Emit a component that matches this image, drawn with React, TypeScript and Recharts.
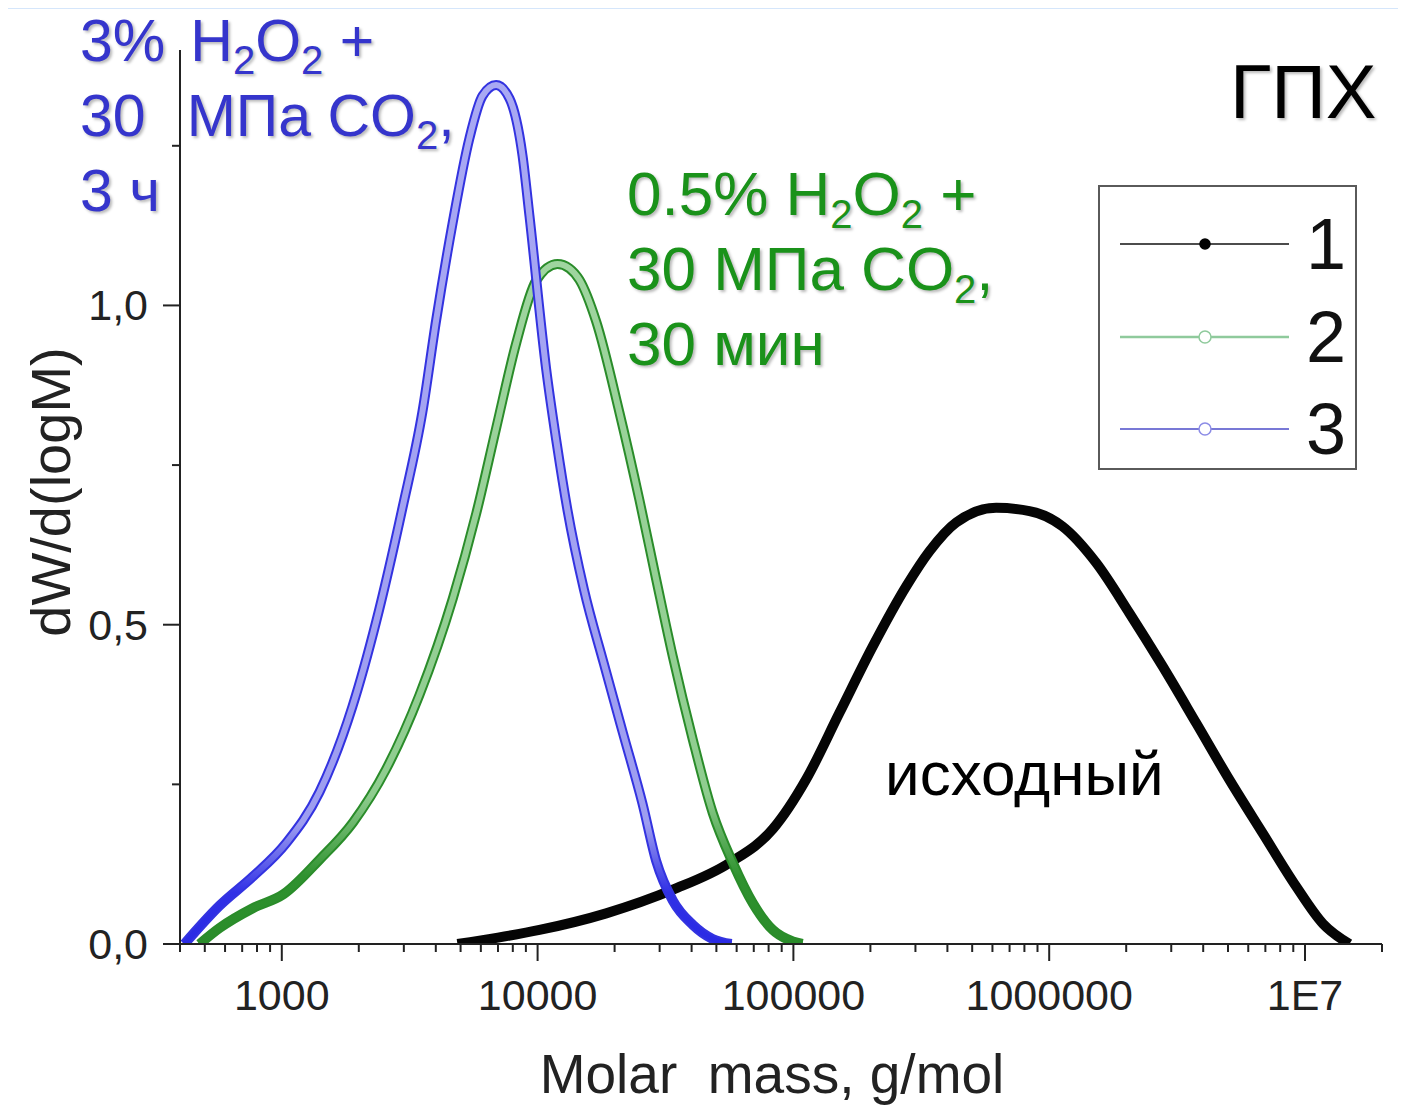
import React from 'react';
import { LineChart, Line, XAxis, YAxis, Legend, Label } from 'recharts';

// GPC (ГПХ) molar mass distributions
// 1 — original sample
const massOriginal = [4860, 7000, 10170, 18540, 33780, 56260, 83090, 112200, 151400, 204300, 276000, 340400, 432900, 620400, 837300, 1127000, 1526000, 2060000, 2774000, 3755000, 5068000, 6822000, 9238000, 11740000, 14930000];
const dwOriginal = [0, 0.01, 0.022, 0.048, 0.085, 0.127, 0.18, 0.258, 0.362, 0.466, 0.56, 0.615, 0.66, 0.683, 0.678, 0.654, 0.597, 0.518, 0.435, 0.346, 0.257, 0.174, 0.09, 0.032, 0];

// 2 — 0.5% H2O2 + 30 MPa CO2, 30 min
const mass05 = [477, 571, 770, 1016, 1404, 1895, 2559, 3453, 4661, 5754, 6888, 8249, 9874, 11960, 13320, 14580, 16940, 20900, 25020, 29080, 33780, 40440, 48400, 57960, 69390, 83090, 99450, 108500];
const dw05 = [0, 0.025, 0.056, 0.078, 0.132, 0.19, 0.274, 0.39, 0.541, 0.674, 0.808, 0.941, 1.039, 1.065, 1.058, 1.04, 0.975, 0.832, 0.695, 0.571, 0.45, 0.32, 0.205, 0.127, 0.064, 0.022, 0.004, 0];

// 3 — 3% H2O2 + 30 MPa CO2, 3 h
const mass3 = [416, 571, 768, 1040, 1404, 1889, 2339, 2963, 3548, 4013, 4649, 5416, 6087, 6888, 7765, 8729, 9296, 10805, 11870, 13080, 15180, 18130, 21570, 25700, 29080, 33780, 40440, 48290, 57280];
const dw3 = [0, 0.06, 0.105, 0.158, 0.238, 0.372, 0.505, 0.683, 0.834, 0.977, 1.128, 1.262, 1.328, 1.345, 1.324, 1.235, 1.14, 0.9, 0.785, 0.68, 0.555, 0.44, 0.33, 0.22, 0.13, 0.068, 0.03, 0.008, 0];

const xMajorTicks = [1000, 10000, 100000, 1000000, 10000000];
const xMajorLabels = ['1000', '10000', '100000', '1000000', '1E7'];
const xDecades = [100, 1000, 10000, 100000, 1000000, 10000000];
const xMinorSteps = [2, 3, 4, 5, 6, 7, 8, 9];
const yTicks = [0, 0.25, 0.5, 0.75, 1, 1.25];
const yMajorTicks = [0, 0.5, 1];
const yMajorLabels = ['0,0', '0,5', '1,0'];

const X_MIN = 400;
const X_MAX = 20000000;

const FONT = '"Liberation Sans", Arial, Helvetica, sans-serif';
const AXIS = '#222';

const toPoints = (mass: number[], dw: number[]) => mass.map((M, i) => ({ M, v: dw[i] }));

// outer = edge colour of the thick marker band, inner = its lighter core (gradient id)
const series = [
  { name: '1', data: toPoints(massOriginal, dwOriginal), stroke: '#050505', inner: null },
  { name: '2', data: toPoints(mass05, dw05), stroke: '#2a8c2a', inner: 'url(#greenCore)' },
  { name: '3', data: toPoints(mass3, dw3), stroke: '#3333e0', inner: 'url(#blueCore)' },
];

const xMinorTicks = xDecades
  .flatMap((d) => xMinorSteps.map((s) => d * s))
  .filter((t) => t >= X_MIN && t <= X_MAX);
const xAllTicks = [...xMinorTicks, ...xMajorTicks].sort((a, b) => a - b);

const legendLook: Record<string, any> = {
  '1': { line: '#111', width: 1.5, fill: '#000', stroke: '#000', r: 5 },
  '2': { line: '#8fca9c', width: 2.5, fill: '#fff', stroke: '#8fca9c', r: 6 },
  '3': { line: '#4b4bc8', width: 1.5, fill: '#fff', stroke: '#8c8ce6', r: 6 },
};

const XTick = (props: any) => {
  const { x, y, payload } = props;
  const idx = xMajorTicks.indexOf(payload.value);
  const major = idx >= 0;
  return (
    <g>
      <line x1={x} x2={x} y1={y} y2={y + (major ? 17 : 8)} stroke={AXIS} strokeWidth={2} />
      {major && (
        <text x={x} y={y + 66} textAnchor="middle" fontSize={43} fill={AXIS} fontFamily={FONT}>
          {xMajorLabels[idx]}
        </text>
      )}
    </g>
  );
};

const YTick = (props: any) => {
  const { x, y, payload } = props;
  const idx = yMajorTicks.indexOf(payload.value);
  const major = idx >= 0;
  return (
    <g>
      <line x1={x - (major ? 17 : 8)} x2={x} y1={y} y2={y} stroke={AXIS} strokeWidth={2} />
      {major && (
        <text x={x - 32} y={y + 15} textAnchor="end" fontSize={43} fill={AXIS} fontFamily={FONT}>
          {yMajorLabels[idx]}
        </text>
      )}
    </g>
  );
};

const LegendBox = (props: any) => {
  const items = (props.payload || []).filter((p: any) => p.type !== 'none' && legendLook[p.value]);
  return (
    <div style={{ width: 259, height: 285, boxSizing: 'border-box', border: '2px solid #5a5a5a', background: '#fff', position: 'relative', fontFamily: FONT }}>
      {items.map((p: any, i: number) => {
        const s = legendLook[p.value];
        return (
          <div key={p.value} style={{ position: 'absolute', left: 0, top: 17 + i * 92.5, height: 80, width: '100%' }}>
            <svg width={200} height={80} style={{ position: 'absolute', left: 0, top: 0 }}>
              <line x1={20} x2={189} y1={40} y2={40} stroke={s.line} strokeWidth={s.width} />
              <circle cx={105} cy={40} r={s.r} fill={s.fill} stroke={s.stroke} strokeWidth={1.5} />
            </svg>
            <span style={{ position: 'absolute', left: 206, top: 0, fontSize: 72, lineHeight: '80px', color: '#111' }}>{p.value}</span>
          </div>
        );
      })}
    </div>
  );
};

// top of a text line box so that the baseline lands on `baseline`
const topFor = (baseline: number, size: number, lh: number) => baseline - ((lh - 1.117 * size) / 2 + 0.905 * size);

const Sub = ({ children }: { children: React.ReactNode }) => (
  <span style={{ fontSize: 40, position: 'relative', top: 13, lineHeight: 0 }}>{children}</span>
);

const shadow = '2px 2px 3px rgba(0,0,0,0.28)';

const App = () => {
  return (
    <div style={{ position: 'relative', width: 1406, height: 1118, margin: -8, background: '#d5e6fb', fontFamily: FONT, overflow: 'hidden' }}>
      <div style={{ position: 'absolute', left: 8, top: 9, right: 0, bottom: 0, background: '#fff' }} />
      <div style={{ position: 'absolute', left: 0, top: 0 }}>
        <LineChart width={1406} height={1118} margin={{ top: 50, right: 24, bottom: 74, left: 8 }}>
          <defs>
            <linearGradient id="greenCore" x1="0" y1="0" x2="0" y2="1">
              <stop offset="0" stopColor="#9fd59f" />
              <stop offset="0.78" stopColor="#8fcd8f" />
              <stop offset="0.9" stopColor="#2f922f" />
              <stop offset="1" stopColor="#2a8c2a" />
            </linearGradient>
            <linearGradient id="blueCore" x1="0" y1="0" x2="0" y2="1">
              <stop offset="0" stopColor="#a9a9f3" />
              <stop offset="0.86" stopColor="#9d9df0" />
              <stop offset="0.94" stopColor="#3030e6" />
              <stop offset="1" stopColor="#2a2ae4" />
            </linearGradient>
          </defs>
          <XAxis
            dataKey="M"
            type="number"
            scale="log"
            domain={[X_MIN, X_MAX]}
            allowDataOverflow
            ticks={xAllTicks}
            interval={0}
            height={100}
            tickSize={0}
            tickMargin={0}
            tickLine={false}
            tick={<XTick />}
            axisLine={{ stroke: AXIS, strokeWidth: 2 }}
          >
            <Label
              content={(p: any) => {
                const vb = p.viewBox || { x: 180, y: 944, width: 1202 };
                return (
                  <text x={vb.x + vb.width / 2 - 9} y={vb.y + 149} textAnchor="middle" fontSize={55} fill={AXIS} fontFamily={FONT} style={{ whiteSpace: 'pre' }}>
                    {'Molar  mass, g/mol'}
                  </text>
                );
              }}
            />
          </XAxis>
          <YAxis
            type="number"
            domain={[0, 1.4]}
            allowDataOverflow
            ticks={yTicks}
            interval={0}
            width={172}
            tickSize={0}
            tickMargin={0}
            tickLine={false}
            tick={<YTick />}
            axisLine={{ stroke: AXIS, strokeWidth: 2 }}
          >
            <Label
              content={(p: any) => {
                const vb = p.viewBox || { x: 8, y: 50, height: 894 };
                const cx = vb.x + 42;
                const cy = vb.y + vb.height / 2 - 5;
                return (
                  <text x={cx} y={cy} transform={`rotate(-90, ${cx}, ${cy})`} textAnchor="middle" dominantBaseline="central" fontSize={56} fill={AXIS} fontFamily={FONT}>
                    dW/d(logM)
                  </text>
                );
              }}
            />
          </YAxis>
          {series.flatMap((s) => {
            const out = [
              <Line
                key={`${s.name}-outer`}
                name={s.name}
                data={s.data}
                dataKey="v"
                type="monotone"
                stroke={s.stroke}
                strokeWidth={10}
                dot={false}
                activeDot={false}
                isAnimationActive={false}
              />,
            ];
            if (s.inner) {
              out.push(
                <Line
                  key={`${s.name}-inner`}
                  name={`${s.name}-inner`}
                  data={s.data}
                  dataKey="v"
                  type="monotone"
                  stroke={s.inner}
                  strokeWidth={6}
                  dot={false}
                  activeDot={false}
                  legendType="none"
                  isAnimationActive={false}
                />
              );
            }
            return out;
          })}
          <Legend
            layout="vertical"
            align="center"
            verticalAlign="middle"
            content={<LegendBox />}
            wrapperStyle={{ left: 1098, top: 185, width: 259, height: 285 }}
          />
        </LineChart>
      </div>

      {/* annotations */}
      <div style={{ position: 'absolute', left: 80, top: topFor(62, 59, 75), fontSize: 59, lineHeight: '75px', color: '#3535cc', textShadow: shadow, whiteSpace: 'pre' }}>
        <div>3%<span style={{ marginLeft: 25 }}>H<Sub>2</Sub>O<Sub>2</Sub> +</span></div>
        <div>30<span style={{ marginLeft: 41 }}>МПа CO<Sub>2</Sub>,</span></div>
        <div>3 ч</div>
      </div>
      <div style={{ position: 'absolute', left: 627, top: topFor(215, 62, 75), fontSize: 62, lineHeight: '75px', color: '#1a921a', textShadow: shadow, whiteSpace: 'pre' }}>
        <div>0.5% H<Sub>2</Sub>O<Sub>2</Sub> +</div>
        <div>30 МПа CO<Sub>2</Sub>,</div>
        <div>30 мин</div>
      </div>
      <div style={{ position: 'absolute', left: 1230, top: topFor(118, 76, 90), fontSize: 76, lineHeight: '90px', color: '#000', textShadow: shadow }}>ГПХ</div>
      <div style={{ position: 'absolute', left: 885, top: topFor(795, 62, 70), fontSize: 62, lineHeight: '70px', color: '#000' }}>исходный</div>
    </div>
  );
};

export default App;
